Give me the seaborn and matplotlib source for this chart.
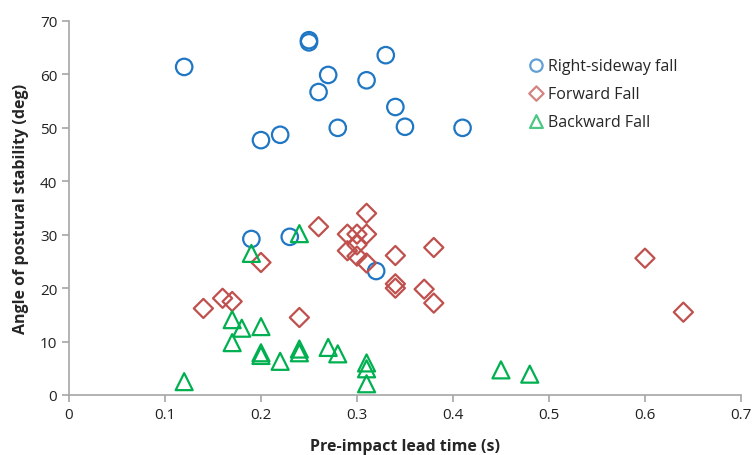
import numpy as np
import pandas as pd
import matplotlib
matplotlib.use("Agg")
import matplotlib.pyplot as plt
import seaborn as sns

side_x = [0.12, 0.25, 0.25, 0.33, 0.27, 0.31, 0.26, 0.34, 0.35, 0.28, 0.41, 0.22, 0.20, 0.19, 0.23, 0.32]
side_y = [61.4, 66.4, 66.0, 63.6, 59.9, 58.9, 56.7, 53.9, 50.2, 50.0, 50.0, 48.7, 47.7, 29.2, 29.6, 23.2]

fwd_x = [0.31, 0.26, 0.29, 0.30, 0.31, 0.30, 0.29, 0.30, 0.31, 0.34, 0.38, 0.20, 0.34, 0.34, 0.37, 0.38, 0.16, 0.17, 0.14, 0.24, 0.60, 0.64]
fwd_y = [34.0, 31.5, 30.1, 30.1, 30.1, 28.1, 27.0, 26.0, 24.7, 26.1, 27.6, 24.8, 20.8, 20.0, 19.8, 17.2, 18.1, 17.5, 16.2, 14.5, 25.6, 15.5]

bwd_x = [0.24, 0.19, 0.17, 0.18, 0.20, 0.17, 0.20, 0.20, 0.22, 0.24, 0.24, 0.27, 0.28, 0.31, 0.31, 0.31, 0.12, 0.45, 0.48]
bwd_y = [30.2, 26.5, 14.1, 12.5, 12.8, 9.8, 7.9, 7.4, 6.3, 8.6, 7.9, 8.9, 7.7, 6.0, 4.9, 2.1, 2.5, 4.7, 3.9]

labels = ["Right-sideway fall", "Forward Fall", "Backward Fall"]

df = pd.DataFrame({
    "x": side_x + fwd_x + bwd_x,
    "y": side_y + fwd_y + bwd_y,
    "type": [labels[0]] * len(side_x) + [labels[1]] * len(fwd_x) + [labels[2]] * len(bwd_x),
})

sns.set_style("white")
plt.rcParams['font.family'] = ['Open Sans', 'DejaVu Sans']

fig = plt.figure(figsize=(7.53, 4.56), dpi=100)
ax = fig.add_axes([0.0916, 0.1316, 0.8924, 0.8202])

colors = {labels[0]: "#1F77C4", labels[1]: "#C0504D", labels[2]: "#00B050"}
markers = {labels[0]: "o", labels[1]: "D", labels[2]: "^"}
sizes = {labels[0]: 140, labels[1]: 95, labels[2]: 150}

for lab in labels:
    sub = df[df["type"] == lab]
    sns.scatterplot(data=sub, x="x", y="y", ax=ax, marker=markers[lab], s=sizes[lab],
                    facecolor="none", edgecolor=colors[lab], linewidth=1.6, label=lab)

ax.set_xlim(0, 0.7)
ax.set_ylim(0, 70)
ax.set_xticks(np.arange(0, 0.71, 0.1))
ax.set_xticklabels(["0", "0.1", "0.2", "0.3", "0.4", "0.5", "0.6", "0.7"])
ax.set_yticks(np.arange(0, 71, 10))
for s in ["top", "right"]:
    ax.spines[s].set_visible(False)
for s in ["left", "bottom"]:
    ax.spines[s].set_color("#A6A6A6")
    ax.spines[s].set_linewidth(1.2)
ax.tick_params(axis="both", direction="out", length=5, color="#A6A6A6", width=1.2,
               labelsize=11, labelcolor="#222222", bottom=True, left=True)
ax.set_xlabel("Pre-impact lead time (s)", fontsize=11.5, fontweight="bold", labelpad=12)
ax.set_ylabel("Angle of postural stability (deg)", fontsize=11.5, fontweight="bold", labelpad=8)

leg = ax.legend(loc="upper left", bbox_to_anchor=(0.66, 0.94), frameon=False,
                fontsize=11.5, handletextpad=0.1, labelspacing=0.75, markerscale=0.75,
                handlelength=1.2)
for h in leg.legend_handles:
    h.set_alpha(0.7)

fig.savefig("out.png", dpi=100)
